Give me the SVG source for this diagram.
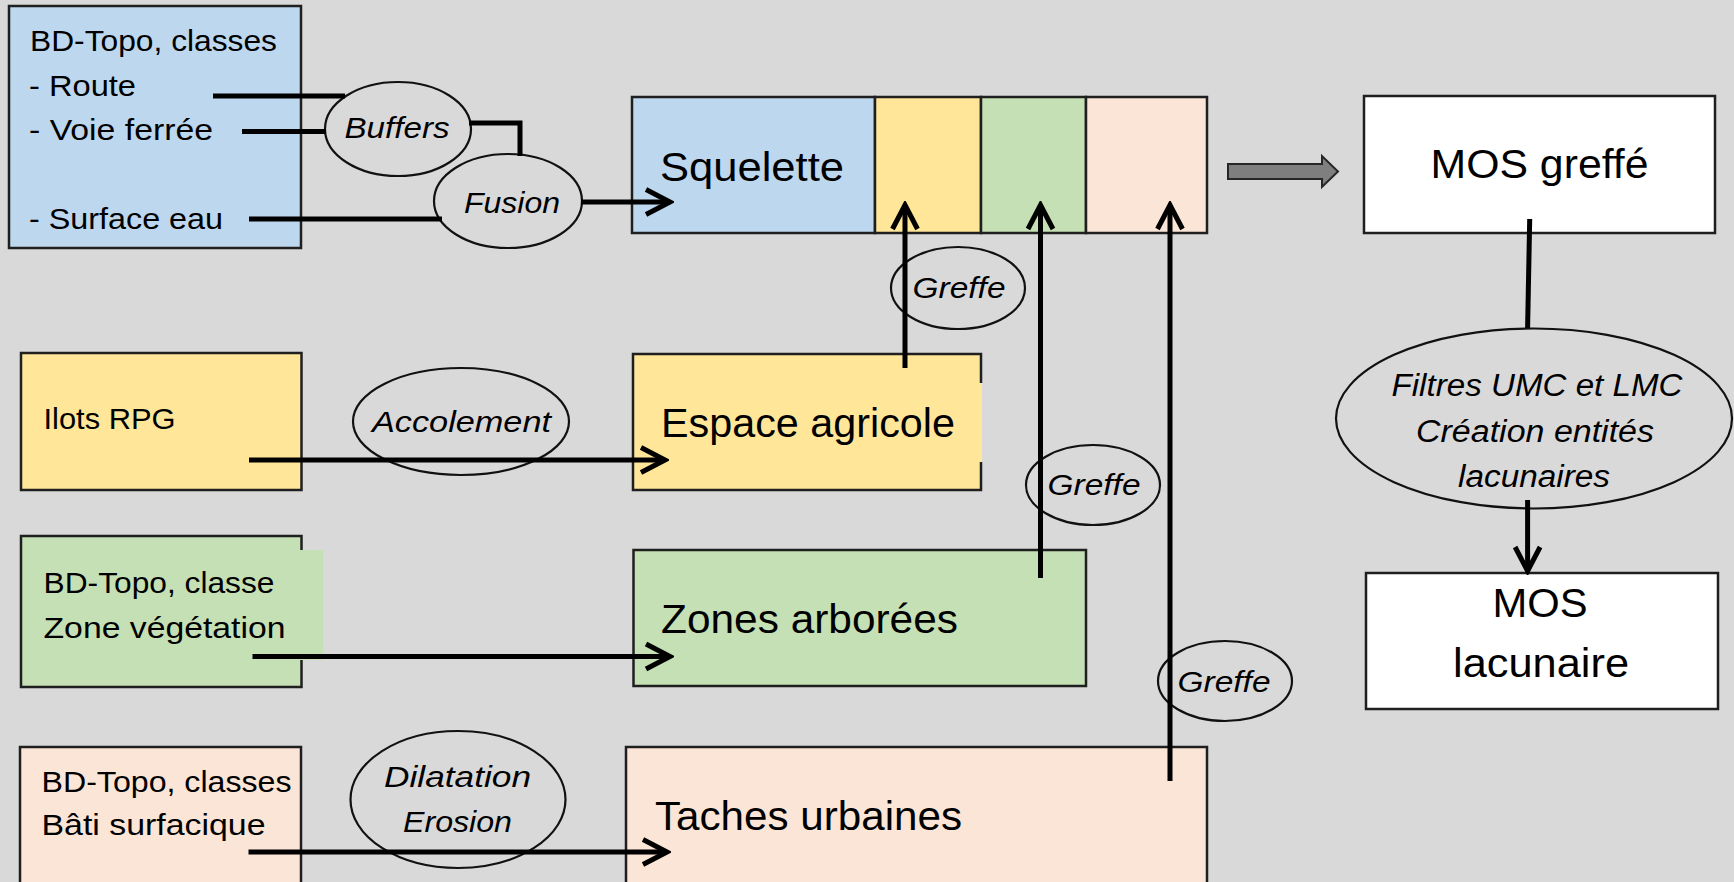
<svg xmlns="http://www.w3.org/2000/svg" width="1734" height="882" viewBox="0 0 1734 882">
<defs>
<style>
.box{stroke:#1f1f1f;stroke-width:2.5}
.blue{fill:#bdd7ee}.yel{fill:#ffe699}.grn{fill:#c5e0b4}.pch{fill:#fbe5d6}.wht{fill:#ffffff}
.ell{fill:#d9d9d9;stroke:#111;stroke-width:2.2}
.t{font-family:"Liberation Sans",Arial,sans-serif;font-size:30px;fill:#000}
.ti{font-family:"Liberation Sans",Arial,sans-serif;font-size:30px;font-style:italic;fill:#000}
.tib{font-family:"Liberation Sans",Arial,sans-serif;font-size:31px;font-style:italic;fill:#000}
.tb{font-family:"Liberation Sans",Arial,sans-serif;font-size:41px;fill:#000}
.tm{font-family:"Liberation Sans",Arial,sans-serif;font-size:40px;fill:#000}
.c{text-anchor:middle}
.ln{fill:none;stroke:#000;stroke-width:5}
.arr{fill:none;stroke:#000;stroke-width:5;marker-end:url(#chev)}
</style>
<marker id="chev" markerUnits="userSpaceOnUse" viewBox="-30 -16 34 32" refX="0" refY="0" markerWidth="34" markerHeight="32" orient="auto">
<path d="M-24,-12.5 L0,0 L-24,12.5" fill="none" stroke="#000" stroke-width="5"/>
</marker>
</defs>
<rect width="1734" height="882" fill="#d9d9d9"/>

<g id="bdtopo-reseaux">
<rect class="box blue" x="9" y="6" width="292" height="242"/>
<text class="t" x="30" y="51" textLength="247" lengthAdjust="spacingAndGlyphs">BD-Topo, classes</text>
<text class="t" x="29" y="96" textLength="107" lengthAdjust="spacingAndGlyphs">- Route</text>
<text class="t" x="29" y="140" textLength="184" lengthAdjust="spacingAndGlyphs">- Voie ferrée</text>
<text class="t" x="29" y="229" textLength="194" lengthAdjust="spacingAndGlyphs">- Surface eau</text>
</g>

<g id="buffers">
<ellipse class="ell" cx="398" cy="129" rx="73" ry="47"/>
<text class="ti c" x="397" y="138" textLength="105" lengthAdjust="spacingAndGlyphs">Buffers</text>
</g>
<g id="fusion">
<ellipse class="ell" cx="508" cy="201" rx="74" ry="47"/>
<text class="ti c" x="512" y="213" textLength="96" lengthAdjust="spacingAndGlyphs">Fusion</text>
</g>

<g id="squelette">
<rect class="box blue" x="632" y="97" width="243" height="136"/>
<rect class="box yel" x="875" y="97" width="106" height="136"/>
<rect class="box grn" x="981" y="97" width="105" height="136"/>
<rect class="box pch" x="1086" y="97" width="121" height="136"/>
<text class="tb" x="660" y="181" textLength="184" lengthAdjust="spacingAndGlyphs">Squelette</text>
</g>

<g id="mos-greffe">
<rect class="box wht" x="1364" y="96" width="351" height="137"/>
<text class="tm c" x="1539.5" y="178" textLength="218" lengthAdjust="spacingAndGlyphs">MOS greffé</text>
</g>

<g id="filtres">
<ellipse class="ell" cx="1534" cy="418.5" rx="198" ry="90"/>
<text class="tib c" x="1537" y="396" textLength="291" lengthAdjust="spacingAndGlyphs">Filtres UMC et LMC</text>
<text class="tib c" x="1535" y="441.5" textLength="238" lengthAdjust="spacingAndGlyphs">Création entités</text>
<text class="tib c" x="1534" y="487" textLength="152" lengthAdjust="spacingAndGlyphs">lacunaires</text>
</g>

<g id="mos-lacunaire">
<rect class="box wht" x="1366" y="573" width="352" height="136"/>
<text class="tm c" x="1540" y="617" textLength="95" lengthAdjust="spacingAndGlyphs">MOS</text>
<text class="tm c" x="1541" y="677" textLength="176" lengthAdjust="spacingAndGlyphs">lacunaire</text>
</g>

<g id="ilots-rpg">
<rect class="box yel" x="21" y="353" width="280.5" height="137"/>
<text class="t" x="43.5" y="429" textLength="132" lengthAdjust="spacingAndGlyphs">Ilots RPG</text>
</g>

<g id="accolement">
<ellipse class="ell" cx="461" cy="421.5" rx="108" ry="53.5"/>
<text class="ti c" x="461.5" y="431.5" textLength="179" lengthAdjust="spacingAndGlyphs">Accolement</text>
</g>

<g id="espace-agricole">
<rect class="yel" x="633" y="354" width="349" height="136"/>
<path class="box" fill="none" d="M981,383 V354 H633 V490 H981 V462"/>
<text class="tb" x="661" y="437" textLength="294" lengthAdjust="spacingAndGlyphs">Espace agricole</text>
</g>

<g id="greffe-1">
<ellipse class="ell" cx="958" cy="288" rx="67" ry="41"/>
<text class="ti c" x="959" y="298" textLength="93" lengthAdjust="spacingAndGlyphs">Greffe</text>
</g>
<g id="greffe-2">
<ellipse class="ell" cx="1093" cy="485" rx="67" ry="40"/>
<text class="ti c" x="1094" y="495" textLength="93" lengthAdjust="spacingAndGlyphs">Greffe</text>
</g>
<g id="greffe-3">
<ellipse class="ell" cx="1225" cy="681" rx="67" ry="40"/>
<text class="ti c" x="1224" y="692" textLength="93" lengthAdjust="spacingAndGlyphs">Greffe</text>
</g>

<g id="bdtopo-vegetation">
<rect class="box grn" x="21" y="536" width="280.5" height="151"/>
<rect class="grn" x="300" y="550" width="23" height="110"/>
<text class="t" x="43.5" y="593" textLength="231" lengthAdjust="spacingAndGlyphs">BD-Topo, classe</text>
<text class="t" x="43.5" y="638" textLength="242" lengthAdjust="spacingAndGlyphs">Zone végétation</text>
</g>

<g id="zones-arborees">
<rect class="box grn" x="633.5" y="550" width="452.5" height="136"/>
<text class="tb" x="661" y="633" textLength="297" lengthAdjust="spacingAndGlyphs">Zones arborées</text>
</g>

<g id="bdtopo-bati">
<rect class="box pch" x="20" y="747" width="281" height="150"/>
<text class="t" x="41.5" y="791.5" textLength="250" lengthAdjust="spacingAndGlyphs">BD-Topo, classes</text>
<text class="t" x="41.5" y="835" textLength="224" lengthAdjust="spacingAndGlyphs">Bâti surfacique</text>
</g>

<g id="dilatation-erosion">
<ellipse class="ell" cx="458" cy="799.5" rx="107.5" ry="68.5"/>
<text class="ti c" x="457.5" y="786.5" textLength="147" lengthAdjust="spacingAndGlyphs">Dilatation</text>
<text class="ti c" x="457.5" y="831.5" textLength="109" lengthAdjust="spacingAndGlyphs">Erosion</text>
</g>

<g id="taches-urbaines">
<rect class="box pch" x="626" y="747" width="581" height="150"/>
<text class="tb" x="655" y="830" textLength="307" lengthAdjust="spacingAndGlyphs">Taches urbaines</text>
</g>

<g id="connectors">
<path class="ln" d="M213,96 H345"/>
<path class="ln" d="M242,131.5 H326"/>
<path class="ln" d="M469,123 H520 V156"/>
<path class="ln" d="M249,219 H442"/>
<path class="arr" d="M581,202 H670"/>
<path class="arr" d="M905,368 V205"/>
<path class="arr" d="M1040.5,578 V205"/>
<path class="arr" d="M1170,781 V205"/>
<path class="arr" d="M249,460 H665"/>
<path class="arr" d="M252.5,656.5 H670"/>
<path class="arr" d="M248.5,852 H667"/>
<path d="M1228,164 H1322 V156 L1338,171.5 L1322,187 V179 H1228 Z" fill="#7f7f7f" stroke="#262626" stroke-width="2"/>
<path class="ln" d="M1529.7,219 L1527.6,328"/>
<path class="arr" d="M1527.6,500 V571"/>
</g>
</svg>
